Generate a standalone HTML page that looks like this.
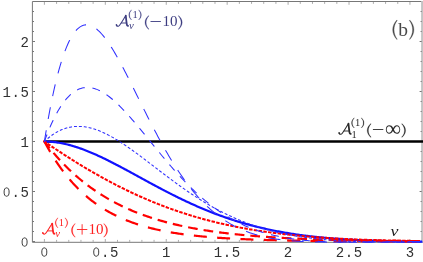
<!DOCTYPE html>
<html><head><meta charset="utf-8"><title>plot</title>
<style>
html,body{margin:0;padding:0;background:#fff;}
body{width:423px;height:262px;overflow:hidden;font-family:"Liberation Sans",sans-serif;}
svg{display:block;}
svg{will-change:transform;}
</style></head><body>
<svg width="423" height="262" viewBox="0 0 423 262">
<rect width="423" height="262" fill="#fff"/>
<g stroke="#777" stroke-width="1" fill="none">
<path d="M423.0,1.5H32.4V242.3H423.0"/>
<line x1="422.05" y1="1.0" x2="422.05" y2="242.8" stroke="#c4c4c4" stroke-width="1.9"/>
<path d="M32.4,241.50h2.6 M421.7,241.50h-2.1 M32.4,231.50h1.6 M421.7,231.50h-1.1 M32.4,221.50h1.6 M421.7,221.50h-1.1 M32.4,211.50h1.6 M421.7,211.50h-1.1 M32.4,201.50h1.6 M421.7,201.50h-1.1 M32.4,191.50h2.6 M421.7,191.50h-2.1 M32.4,181.50h1.6 M421.7,181.50h-1.1 M32.4,171.50h1.6 M421.7,171.50h-1.1 M32.4,161.50h1.6 M421.7,161.50h-1.1 M32.4,151.50h1.6 M421.7,151.50h-1.1 M32.4,141.50h2.6 M421.7,141.50h-2.1 M32.4,131.50h1.6 M421.7,131.50h-1.1 M32.4,121.50h1.6 M421.7,121.50h-1.1 M32.4,111.50h1.6 M421.7,111.50h-1.1 M32.4,101.50h1.6 M421.7,101.50h-1.1 M32.4,91.50h2.6 M421.7,91.50h-2.1 M32.4,81.50h1.6 M421.7,81.50h-1.1 M32.4,71.50h1.6 M421.7,71.50h-1.1 M32.4,61.50h1.6 M421.7,61.50h-1.1 M32.4,51.50h1.6 M421.7,51.50h-1.1 M32.4,41.50h2.6 M421.7,41.50h-2.1 M32.4,31.50h1.6 M421.7,31.50h-1.1 M32.4,21.50h1.6 M421.7,21.50h-1.1 M32.4,11.50h1.6 M421.7,11.50h-1.1"/>
<path d="M44.40,241.8v-2.8 M44.40,2.0v2.8 M56.59,241.8v-1.9 M56.59,2.0v1.9 M68.77,241.8v-1.9 M68.77,2.0v1.9 M80.96,241.8v-1.9 M80.96,2.0v1.9 M93.14,241.8v-1.9 M93.14,2.0v1.9 M105.32,241.8v-2.8 M105.32,2.0v2.8 M117.51,241.8v-1.9 M117.51,2.0v1.9 M129.69,241.8v-1.9 M129.69,2.0v1.9 M141.88,241.8v-1.9 M141.88,2.0v1.9 M154.06,241.8v-1.9 M154.06,2.0v1.9 M166.25,241.8v-2.8 M166.25,2.0v2.8 M178.44,241.8v-1.9 M178.44,2.0v1.9 M190.62,241.8v-1.9 M190.62,2.0v1.9 M202.81,241.8v-1.9 M202.81,2.0v1.9 M214.99,241.8v-1.9 M214.99,2.0v1.9 M227.17,241.8v-2.8 M227.17,2.0v2.8 M239.36,241.8v-1.9 M239.36,2.0v1.9 M251.55,241.8v-1.9 M251.55,2.0v1.9 M263.73,241.8v-1.9 M263.73,2.0v1.9 M275.92,241.8v-1.9 M275.92,2.0v1.9 M288.10,241.8v-2.8 M288.10,2.0v2.8 M300.28,241.8v-1.9 M300.28,2.0v1.9 M312.47,241.8v-1.9 M312.47,2.0v1.9 M324.65,241.8v-1.9 M324.65,2.0v1.9 M336.84,241.8v-1.9 M336.84,2.0v1.9 M349.02,241.8v-2.8 M349.02,2.0v2.8 M361.21,241.8v-1.9 M361.21,2.0v1.9 M373.39,241.8v-1.9 M373.39,2.0v1.9 M385.58,241.8v-1.9 M385.58,2.0v1.9 M397.76,241.8v-1.9 M397.76,2.0v1.9 M409.95,241.8v-2.8 M409.95,2.0v2.8" stroke-width="0.7" stroke="#888"/>
</g>
<clipPath id="c"><rect x="32.4" y="1.5" width="390.6" height="242.3"/></clipPath>
<g clip-path="url(#c)" fill="none">
<line x1="44.4" y1="141.5" x2="423.0" y2="141.5" stroke="#000" stroke-width="2.7"/>
<path d="M44.40,141.50 L45.62,141.51 L46.84,141.54 L48.06,141.58 L49.27,141.64 L50.49,141.72 L51.71,141.82 L52.93,141.94 L54.15,142.07 L55.37,142.21 L56.59,142.38 L57.80,142.56 L59.02,142.75 L60.24,142.96 L61.46,143.19 L62.68,143.43 L63.90,143.68 L65.11,143.95 L66.33,144.23 L67.55,144.53 L68.77,144.84 L69.99,145.16 L71.21,145.50 L72.43,145.85 L73.64,146.21 L74.86,146.58 L76.08,146.97 L77.30,147.37 L78.52,147.78 L79.74,148.20 L80.95,148.63 L82.17,149.07 L83.39,149.52 L84.61,149.98 L85.83,150.45 L87.05,150.93 L88.27,151.42 L89.48,151.92 L90.70,152.43 L91.92,152.94 L93.14,153.47 L94.36,154.00 L95.58,154.54 L96.80,155.09 L98.01,155.64 L99.23,156.21 L100.45,156.77 L101.67,157.35 L102.89,157.93 L104.11,158.52 L105.32,159.11 L106.54,159.71 L107.76,160.31 L108.98,160.92 L110.20,161.53 L111.42,162.15 L112.64,162.77 L113.85,163.40 L115.07,164.03 L116.29,164.66 L117.51,165.30 L118.73,165.94 L119.95,166.58 L121.17,167.23 L122.38,167.88 L123.60,168.53 L124.82,169.18 L126.04,169.84 L127.26,170.49 L128.48,171.15 L129.69,171.81 L130.91,172.48 L132.13,173.14 L133.35,173.80 L134.57,174.47 L135.79,175.13 L137.01,175.80 L138.22,176.46 L139.44,177.13 L140.66,177.80 L141.88,178.46 L143.10,179.13 L144.32,179.79 L145.54,180.45 L146.75,181.12 L147.97,181.78 L149.19,182.44 L150.41,183.10 L151.63,183.76 L152.85,184.41 L154.06,185.07 L155.28,185.72 L156.50,186.37 L157.72,187.02 L158.94,187.67 L160.16,188.31 L161.38,188.96 L162.59,189.60 L163.81,190.23 L165.03,190.87 L166.25,191.50 L167.47,192.13 L168.69,192.75 L169.91,193.38 L171.12,194.00 L172.34,194.61 L173.56,195.23 L174.78,195.84 L176.00,196.44 L177.22,197.04 L178.44,197.64 L179.65,198.24 L180.87,198.83 L182.09,199.42 L183.31,200.00 L184.53,200.58 L185.75,201.16 L186.96,201.73 L188.18,202.30 L189.40,202.86 L190.62,203.42 L191.84,203.97 L193.06,204.52 L194.28,205.07 L195.49,205.61 L196.71,206.15 L197.93,206.68 L199.15,207.21 L200.37,207.73 L201.59,208.25 L202.81,208.76 L204.02,209.27 L205.24,209.78 L206.46,210.28 L207.68,210.77 L208.90,211.26 L210.12,211.75 L211.33,212.23 L212.55,212.70 L213.77,213.18 L214.99,213.64 L216.21,214.10 L217.43,214.56 L218.65,215.01 L219.86,215.46 L221.08,215.90 L222.30,216.34 L223.52,216.77 L224.74,217.20 L225.96,217.62 L227.17,218.04 L228.39,218.46 L229.61,218.86 L230.83,219.27 L232.05,219.67 L233.27,220.06 L234.49,220.45 L235.70,220.83 L236.92,221.21 L238.14,221.59 L239.36,221.96 L240.58,222.33 L241.80,222.69 L243.02,223.04 L244.23,223.39 L245.45,223.74 L246.67,224.08 L247.89,224.42 L249.11,224.75 L250.33,225.08 L251.54,225.41 L252.76,225.73 L253.98,226.04 L255.20,226.35 L256.42,226.66 L257.64,226.96 L258.86,227.26 L260.07,227.55 L261.29,227.84 L262.51,228.12 L263.73,228.40 L264.95,228.68 L266.17,228.95 L267.39,229.22 L268.60,229.48 L269.82,229.74 L271.04,230.00 L272.26,230.25 L273.48,230.50 L274.70,230.74 L275.92,230.98 L277.13,231.21 L278.35,231.45 L279.57,231.67 L280.79,231.90 L282.01,232.12 L283.23,232.34 L284.44,232.55 L285.66,232.76 L286.88,232.96 L288.10,233.17 L289.32,233.37 L290.54,233.56 L291.76,233.75 L292.97,233.94 L294.19,234.13 L295.41,234.31 L296.63,234.49 L297.85,234.66 L299.07,234.83 L300.28,235.00 L301.50,235.17 L302.72,235.33 L303.94,235.49 L305.16,235.65 L306.38,235.80 L307.60,235.95 L308.81,236.10 L310.03,236.25 L311.25,236.39 L312.47,236.53 L313.69,236.66 L314.91,236.80 L316.13,236.93 L317.34,237.06 L318.56,237.18 L319.78,237.31 L321.00,237.43 L322.22,237.55 L323.44,237.66 L324.65,237.77 L325.87,237.89 L327.09,237.99 L328.31,238.10 L329.53,238.20 L330.75,238.31 L331.97,238.41 L333.18,238.50 L334.40,238.60 L335.62,238.69 L336.84,238.78 L338.06,238.87 L339.28,238.96 L340.50,239.04 L341.71,239.13 L342.93,239.21 L344.15,239.29 L345.37,239.36 L346.59,239.44 L347.81,239.51 L349.02,239.58 L350.24,239.65 L351.46,239.72 L352.68,239.79 L353.90,239.85 L355.12,239.92 L356.34,239.98 L357.55,240.04 L358.77,240.10 L359.99,240.15 L361.21,240.21 L362.43,240.26 L363.65,240.32 L364.87,240.37 L366.08,240.42 L367.30,240.47 L368.52,240.51 L369.74,240.56 L370.96,240.60 L372.18,240.65 L373.39,240.69 L374.61,240.73 L375.83,240.77 L377.05,240.81 L378.27,240.85 L379.49,240.88 L380.71,240.92 L381.92,240.95 L383.14,240.99 L384.36,241.02 L385.58,241.05 L386.80,241.08 L388.02,241.11 L389.24,241.14 L390.45,241.17 L391.67,241.19 L392.89,241.22 L394.11,241.24 L395.33,241.27 L396.55,241.29 L397.76,241.31 L398.98,241.34 L400.20,241.36 L401.42,241.38 L402.64,241.40 L403.86,241.42 L405.08,241.43 L406.29,241.45 L407.51,241.47 L408.73,241.48 L409.95,241.50 L411.17,241.51 L412.39,241.53 L413.61,241.54 L414.82,241.56 L416.04,241.57 L417.26,241.58 L418.48,241.59 L419.70,241.60 L420.92,241.61 L422.13,241.62" stroke="#1010ff" stroke-width="2.2"/>
<path d="M44.40,141.50 L45.62,142.34 L46.84,143.17 L48.06,144.00 L49.27,144.83 L50.49,145.66 L51.71,146.48 L52.93,147.30 L54.15,148.11 L55.37,148.92 L56.59,149.73 L57.80,150.54 L59.02,151.34 L60.24,152.14 L61.46,152.94 L62.68,153.73 L63.90,154.52 L65.11,155.31 L66.33,156.09 L67.55,156.87 L68.77,157.65 L69.99,158.42 L71.21,159.19 L72.43,159.96 L73.64,160.72 L74.86,161.48 L76.08,162.23 L77.30,162.98 L78.52,163.73 L79.74,164.48 L80.95,165.22 L82.17,165.96 L83.39,166.69 L84.61,167.42 L85.83,168.15 L87.05,168.87 L88.27,169.59 L89.48,170.30 L90.70,171.01 L91.92,171.72 L93.14,172.43 L94.36,173.13 L95.58,173.82 L96.80,174.51 L98.01,175.20 L99.23,175.89 L100.45,176.57 L101.67,177.24 L102.89,177.91 L104.11,178.58 L105.32,179.25 L106.54,179.91 L107.76,180.56 L108.98,181.22 L110.20,181.86 L111.42,182.51 L112.64,183.15 L113.85,183.78 L115.07,184.42 L116.29,185.04 L117.51,185.67 L118.73,186.29 L119.95,186.90 L121.17,187.51 L122.38,188.12 L123.60,188.72 L124.82,189.32 L126.04,189.91 L127.26,190.50 L128.48,191.09 L129.69,191.67 L130.91,192.25 L132.13,192.82 L133.35,193.39 L134.57,193.96 L135.79,194.52 L137.01,195.07 L138.22,195.62 L139.44,196.17 L140.66,196.72 L141.88,197.26 L143.10,197.79 L144.32,198.32 L145.54,198.85 L146.75,199.37 L147.97,199.89 L149.19,200.40 L150.41,200.91 L151.63,201.42 L152.85,201.92 L154.06,202.41 L155.28,202.91 L156.50,203.40 L157.72,203.88 L158.94,204.36 L160.16,204.84 L161.38,205.31 L162.59,205.77 L163.81,206.24 L165.03,206.70 L166.25,207.15 L167.47,207.60 L168.69,208.05 L169.91,208.49 L171.12,208.93 L172.34,209.36 L173.56,209.79 L174.78,210.22 L176.00,210.64 L177.22,211.06 L178.44,211.48 L179.65,211.89 L180.87,212.29 L182.09,212.69 L183.31,213.09 L184.53,213.49 L185.75,213.88 L186.96,214.26 L188.18,214.64 L189.40,215.02 L190.62,215.40 L191.84,215.77 L193.06,216.13 L194.28,216.50 L195.49,216.86 L196.71,217.21 L197.93,217.56 L199.15,217.91 L200.37,218.25 L201.59,218.59 L202.81,218.93 L204.02,219.26 L205.24,219.59 L206.46,219.92 L207.68,220.24 L208.90,220.56 L210.12,220.87 L211.33,221.18 L212.55,221.49 L213.77,221.79 L214.99,222.09 L216.21,222.39 L217.43,222.69 L218.65,222.98 L219.86,223.26 L221.08,223.55 L222.30,223.83 L223.52,224.10 L224.74,224.38 L225.96,224.65 L227.17,224.91 L228.39,225.18 L229.61,225.44 L230.83,225.69 L232.05,225.95 L233.27,226.20 L234.49,226.44 L235.70,226.69 L236.92,226.93 L238.14,227.17 L239.36,227.40 L240.58,227.64 L241.80,227.87 L243.02,228.09 L244.23,228.31 L245.45,228.54 L246.67,228.75 L247.89,228.97 L249.11,229.18 L250.33,229.39 L251.54,229.59 L252.76,229.80 L253.98,230.00 L255.20,230.20 L256.42,230.39 L257.64,230.58 L258.86,230.77 L260.07,230.96 L261.29,231.15 L262.51,231.33 L263.73,231.51 L264.95,231.69 L266.17,231.86 L267.39,232.03 L268.60,232.20 L269.82,232.37 L271.04,232.53 L272.26,232.70 L273.48,232.86 L274.70,233.01 L275.92,233.17 L277.13,233.32 L278.35,233.47 L279.57,233.62 L280.79,233.77 L282.01,233.91 L283.23,234.05 L284.44,234.19 L285.66,234.33 L286.88,234.47 L288.10,234.60 L289.32,234.73 L290.54,234.86 L291.76,234.99 L292.97,235.12 L294.19,235.24 L295.41,235.36 L296.63,235.48 L297.85,235.60 L299.07,235.71 L300.28,235.83 L301.50,235.94 L302.72,236.05 L303.94,236.16 L305.16,236.27 L306.38,236.37 L307.60,236.48 L308.81,236.58 L310.03,236.68 L311.25,236.78 L312.47,236.87 L313.69,236.97 L314.91,237.06 L316.13,237.16 L317.34,237.25 L318.56,237.33 L319.78,237.42 L321.00,237.51 L322.22,237.59 L323.44,237.68 L324.65,237.76 L325.87,237.84 L327.09,237.92 L328.31,237.99 L329.53,238.07 L330.75,238.14 L331.97,238.22 L333.18,238.29 L334.40,238.36 L335.62,238.43 L336.84,238.50 L338.06,238.57 L339.28,238.63 L340.50,238.70 L341.71,238.76 L342.93,238.82 L344.15,238.88 L345.37,238.94 L346.59,239.00 L347.81,239.06 L349.02,239.12 L350.24,239.17 L351.46,239.23 L352.68,239.28 L353.90,239.33 L355.12,239.39 L356.34,239.44 L357.55,239.49 L358.77,239.53 L359.99,239.58 L361.21,239.63 L362.43,239.67 L363.65,239.72 L364.87,239.76 L366.08,239.81 L367.30,239.85 L368.52,239.89 L369.74,239.93 L370.96,239.97 L372.18,240.01 L373.39,240.05 L374.61,240.09 L375.83,240.12 L377.05,240.16 L378.27,240.19 L379.49,240.23 L380.71,240.26 L381.92,240.29 L383.14,240.33 L384.36,240.36 L385.58,240.39 L386.80,240.42 L388.02,240.45 L389.24,240.48 L390.45,240.51 L391.67,240.53 L392.89,240.56 L394.11,240.59 L395.33,240.61 L396.55,240.64 L397.76,240.66 L398.98,240.69 L400.20,240.71 L401.42,240.74 L402.64,240.76 L403.86,240.78 L405.08,240.80 L406.29,240.82 L407.51,240.84 L408.73,240.86 L409.95,240.88 L411.17,240.90 L412.39,240.92 L413.61,240.94 L414.82,240.96 L416.04,240.98 L417.26,240.99 L418.48,241.01 L419.70,241.03 L420.92,241.04 L422.13,241.06" stroke="#ff0000" stroke-width="2.0" stroke-dasharray="1.5 3.3" stroke-linecap="square"/>
<path d="M44.40,141.50 L45.62,143.10 L46.84,144.68 L48.06,146.23 L49.27,147.76 L50.49,149.27 L51.71,150.75 L52.93,152.20 L54.15,153.64 L55.37,155.05 L56.59,156.44 L57.80,157.80 L59.02,159.15 L60.24,160.47 L61.46,161.78 L62.68,163.06 L63.90,164.32 L65.11,165.56 L66.33,166.78 L67.55,167.99 L68.77,169.17 L69.99,170.33 L71.21,171.48 L72.43,172.61 L73.64,173.72 L74.86,174.81 L76.08,175.89 L77.30,176.95 L78.52,177.99 L79.74,179.01 L80.95,180.02 L82.17,181.02 L83.39,181.99 L84.61,182.96 L85.83,183.90 L87.05,184.83 L88.27,185.75 L89.48,186.65 L90.70,187.54 L91.92,188.41 L93.14,189.27 L94.36,190.12 L95.58,190.95 L96.80,191.77 L98.01,192.58 L99.23,193.37 L100.45,194.16 L101.67,194.93 L102.89,195.68 L104.11,196.43 L105.32,197.16 L106.54,197.88 L107.76,198.59 L108.98,199.29 L110.20,199.98 L111.42,200.66 L112.64,201.32 L113.85,201.98 L115.07,202.62 L116.29,203.26 L117.51,203.88 L118.73,204.50 L119.95,205.10 L121.17,205.70 L122.38,206.28 L123.60,206.86 L124.82,207.43 L126.04,207.99 L127.26,208.54 L128.48,209.08 L129.69,209.61 L130.91,210.13 L132.13,210.65 L133.35,211.16 L134.57,211.65 L135.79,212.15 L137.01,212.63 L138.22,213.11 L139.44,213.57 L140.66,214.03 L141.88,214.49 L143.10,214.93 L144.32,215.37 L145.54,215.80 L146.75,216.23 L147.97,216.65 L149.19,217.06 L150.41,217.47 L151.63,217.86 L152.85,218.26 L154.06,218.64 L155.28,219.02 L156.50,219.40 L157.72,219.76 L158.94,220.13 L160.16,220.48 L161.38,220.83 L162.59,221.18 L163.81,221.52 L165.03,221.85 L166.25,222.18 L167.47,222.50 L168.69,222.82 L169.91,223.13 L171.12,223.44 L172.34,223.74 L173.56,224.04 L174.78,224.33 L176.00,224.62 L177.22,224.91 L178.44,225.19 L179.65,225.46 L180.87,225.73 L182.09,226.00 L183.31,226.26 L184.53,226.52 L185.75,226.77 L186.96,227.02 L188.18,227.27 L189.40,227.51 L190.62,227.74 L191.84,227.98 L193.06,228.21 L194.28,228.43 L195.49,228.66 L196.71,228.87 L197.93,229.09 L199.15,229.30 L200.37,229.51 L201.59,229.71 L202.81,229.92 L204.02,230.11 L205.24,230.31 L206.46,230.50 L207.68,230.69 L208.90,230.88 L210.12,231.06 L211.33,231.24 L212.55,231.42 L213.77,231.59 L214.99,231.76 L216.21,231.93 L217.43,232.09 L218.65,232.26 L219.86,232.42 L221.08,232.57 L222.30,232.73 L223.52,232.88 L224.74,233.03 L225.96,233.18 L227.17,233.32 L228.39,233.47 L229.61,233.61 L230.83,233.74 L232.05,233.88 L233.27,234.01 L234.49,234.14 L235.70,234.27 L236.92,234.40 L238.14,234.52 L239.36,234.65 L240.58,234.77 L241.80,234.89 L243.02,235.00 L244.23,235.12 L245.45,235.23 L246.67,235.34 L247.89,235.45 L249.11,235.56 L250.33,235.66 L251.54,235.77 L252.76,235.87 L253.98,235.97 L255.20,236.07 L256.42,236.16 L257.64,236.26 L258.86,236.35 L260.07,236.45 L261.29,236.54 L262.51,236.63 L263.73,236.71 L264.95,236.80 L266.17,236.88 L267.39,236.97 L268.60,237.05 L269.82,237.13 L271.04,237.21 L272.26,237.29 L273.48,237.36 L274.70,237.44 L275.92,237.51 L277.13,237.58 L278.35,237.65 L279.57,237.72 L280.79,237.79 L282.01,237.86 L283.23,237.93 L284.44,237.99 L285.66,238.06 L286.88,238.12 L288.10,238.18 L289.32,238.24 L290.54,238.30 L291.76,238.36 L292.97,238.42 L294.19,238.48 L295.41,238.53 L296.63,238.59 L297.85,238.64 L299.07,238.70 L300.28,238.75 L301.50,238.80 L302.72,238.85 L303.94,238.90 L305.16,238.95 L306.38,239.00 L307.60,239.04 L308.81,239.09 L310.03,239.13 L311.25,239.18 L312.47,239.22 L313.69,239.26 L314.91,239.31 L316.13,239.35 L317.34,239.39 L318.56,239.43 L319.78,239.47 L321.00,239.51 L322.22,239.55 L323.44,239.58 L324.65,239.62 L325.87,239.66 L327.09,239.69 L328.31,239.72 L329.53,239.76 L330.75,239.79 L331.97,239.83 L333.18,239.86 L334.40,239.89 L335.62,239.92 L336.84,239.95 L338.06,239.98 L339.28,240.01 L340.50,240.04 L341.71,240.07 L342.93,240.10 L344.15,240.12 L345.37,240.15 L346.59,240.18 L347.81,240.20 L349.02,240.23 L350.24,240.25 L351.46,240.28 L352.68,240.30 L353.90,240.33 L355.12,240.35 L356.34,240.37 L357.55,240.39 L358.77,240.42 L359.99,240.44 L361.21,240.46 L362.43,240.48 L363.65,240.50 L364.87,240.52 L366.08,240.54 L367.30,240.56 L368.52,240.58 L369.74,240.60 L370.96,240.61 L372.18,240.63 L373.39,240.65 L374.61,240.67 L375.83,240.68 L377.05,240.70 L378.27,240.72 L379.49,240.73 L380.71,240.75 L381.92,240.76 L383.14,240.78 L384.36,240.79 L385.58,240.81 L386.80,240.82 L388.02,240.84 L389.24,240.85 L390.45,240.86 L391.67,240.88 L392.89,240.89 L394.11,240.90 L395.33,240.91 L396.55,240.93 L397.76,240.94 L398.98,240.95 L400.20,240.96 L401.42,240.97 L402.64,240.98 L403.86,240.99 L405.08,241.01 L406.29,241.02 L407.51,241.03 L408.73,241.04 L409.95,241.05 L411.17,241.06 L412.39,241.07 L413.61,241.07 L414.82,241.08 L416.04,241.09 L417.26,241.10 L418.48,241.11 L419.70,241.12 L420.92,241.13 L422.13,241.13" stroke="#ff0000" stroke-width="2.2" stroke-dasharray="7.5 8.2" stroke-linecap="square"/>
<path d="M44.40,141.50 L45.62,143.78 L46.84,146.00 L48.06,148.17 L49.27,150.30 L50.49,152.38 L51.71,154.40 L52.93,156.39 L54.15,158.32 L55.37,160.22 L56.59,162.07 L57.80,163.88 L59.02,165.64 L60.24,167.37 L61.46,169.06 L62.68,170.71 L63.90,172.32 L65.11,173.89 L66.33,175.43 L67.55,176.94 L68.77,178.41 L69.99,179.84 L71.21,181.25 L72.43,182.62 L73.64,183.96 L74.86,185.27 L76.08,186.55 L77.30,187.80 L78.52,189.02 L79.74,190.22 L80.95,191.38 L82.17,192.52 L83.39,193.64 L84.61,194.73 L85.83,195.79 L87.05,196.83 L88.27,197.85 L89.48,198.84 L90.70,199.82 L91.92,200.76 L93.14,201.69 L94.36,202.60 L95.58,203.48 L96.80,204.35 L98.01,205.19 L99.23,206.02 L100.45,206.83 L101.67,207.62 L102.89,208.39 L104.11,209.14 L105.32,209.88 L106.54,210.60 L107.76,211.30 L108.98,211.99 L110.20,212.66 L111.42,213.32 L112.64,213.96 L113.85,214.59 L115.07,215.20 L116.29,215.80 L117.51,216.38 L118.73,216.96 L119.95,217.51 L121.17,218.06 L122.38,218.59 L123.60,219.12 L124.82,219.63 L126.04,220.12 L127.26,220.61 L128.48,221.09 L129.69,221.55 L130.91,222.01 L132.13,222.45 L133.35,222.88 L134.57,223.31 L135.79,223.72 L137.01,224.13 L138.22,224.52 L139.44,224.91 L140.66,225.29 L141.88,225.65 L143.10,226.02 L144.32,226.37 L145.54,226.71 L146.75,227.05 L147.97,227.38 L149.19,227.70 L150.41,228.01 L151.63,228.32 L152.85,228.62 L154.06,228.91 L155.28,229.20 L156.50,229.48 L157.72,229.76 L158.94,230.02 L160.16,230.28 L161.38,230.54 L162.59,230.79 L163.81,231.03 L165.03,231.27 L166.25,231.50 L167.47,231.73 L168.69,231.95 L169.91,232.17 L171.12,232.38 L172.34,232.59 L173.56,232.80 L174.78,232.99 L176.00,233.19 L177.22,233.38 L178.44,233.56 L179.65,233.74 L180.87,233.92 L182.09,234.09 L183.31,234.26 L184.53,234.43 L185.75,234.59 L186.96,234.74 L188.18,234.90 L189.40,235.05 L190.62,235.20 L191.84,235.34 L193.06,235.48 L194.28,235.62 L195.49,235.75 L196.71,235.88 L197.93,236.01 L199.15,236.13 L200.37,236.26 L201.59,236.38 L202.81,236.49 L204.02,236.61 L205.24,236.72 L206.46,236.83 L207.68,236.93 L208.90,237.04 L210.12,237.14 L211.33,237.24 L212.55,237.34 L213.77,237.43 L214.99,237.52 L216.21,237.61 L217.43,237.70 L218.65,237.79 L219.86,237.87 L221.08,237.96 L222.30,238.04 L223.52,238.12 L224.74,238.19 L225.96,238.27 L227.17,238.34 L228.39,238.41 L229.61,238.49 L230.83,238.55 L232.05,238.62 L233.27,238.69 L234.49,238.75 L235.70,238.81 L236.92,238.87 L238.14,238.93 L239.36,238.99 L240.58,239.05 L241.80,239.11 L243.02,239.16 L244.23,239.21 L245.45,239.27 L246.67,239.32 L247.89,239.37 L249.11,239.42 L250.33,239.46 L251.54,239.51 L252.76,239.56 L253.98,239.60 L255.20,239.64 L256.42,239.69 L257.64,239.73 L258.86,239.77 L260.07,239.81 L261.29,239.85 L262.51,239.88 L263.73,239.92 L264.95,239.96 L266.17,239.99 L267.39,240.03 L268.60,240.06 L269.82,240.09 L271.04,240.12 L272.26,240.16 L273.48,240.19 L274.70,240.22 L275.92,240.25 L277.13,240.27 L278.35,240.30 L279.57,240.33 L280.79,240.36 L282.01,240.38 L283.23,240.41 L284.44,240.43 L285.66,240.46 L286.88,240.48 L288.10,240.50 L289.32,240.53 L290.54,240.55 L291.76,240.57 L292.97,240.59 L294.19,240.61 L295.41,240.63 L296.63,240.65 L297.85,240.67 L299.07,240.69 L300.28,240.71 L301.50,240.73 L302.72,240.75 L303.94,240.76 L305.16,240.78 L306.38,240.80 L307.60,240.81 L308.81,240.83 L310.03,240.84 L311.25,240.86 L312.47,240.87 L313.69,240.89 L314.91,240.90 L316.13,240.92 L317.34,240.93 L318.56,240.94 L319.78,240.95 L321.00,240.97 L322.22,240.98 L323.44,240.99 L324.65,241.00 L325.87,241.01 L327.09,241.03 L328.31,241.04 L329.53,241.05 L330.75,241.06 L331.97,241.07 L333.18,241.08 L334.40,241.09 L335.62,241.10 L336.84,241.11 L338.06,241.11 L339.28,241.12 L340.50,241.13 L341.71,241.14 L342.93,241.15 L344.15,241.16 L345.37,241.16 L346.59,241.17 L347.81,241.18 L349.02,241.19 L350.24,241.19 L351.46,241.20 L352.68,241.21 L353.90,241.21 L355.12,241.22 L356.34,241.23 L357.55,241.23 L358.77,241.24 L359.99,241.25 L361.21,241.25 L362.43,241.26 L363.65,241.26 L364.87,241.27 L366.08,241.27 L367.30,241.28 L368.52,241.28 L369.74,241.29 L370.96,241.29 L372.18,241.30 L373.39,241.30 L374.61,241.31 L375.83,241.31 L377.05,241.32 L378.27,241.32 L379.49,241.32 L380.71,241.33 L381.92,241.33 L383.14,241.34 L384.36,241.34 L385.58,241.34 L386.80,241.35 L388.02,241.35 L389.24,241.35 L390.45,241.36 L391.67,241.36 L392.89,241.36 L394.11,241.37 L395.33,241.37 L396.55,241.37 L397.76,241.38 L398.98,241.38 L400.20,241.38 L401.42,241.38 L402.64,241.39 L403.86,241.39 L405.08,241.39 L406.29,241.40 L407.51,241.40 L408.73,241.40 L409.95,241.40 L411.17,241.40 L412.39,241.41 L413.61,241.41 L414.82,241.41 L416.04,241.41 L417.26,241.42 L418.48,241.42 L419.70,241.42 L420.92,241.42 L422.13,241.42" stroke="#ff0000" stroke-width="2.2" stroke-dasharray="10.8 12.55" stroke-linecap="square"/>
<path d="M44.40,141.50 L45.62,140.36 L46.84,139.27 L48.06,138.23 L49.27,137.24 L50.49,136.30 L51.71,135.40 L52.93,134.55 L54.15,133.74 L55.37,132.98 L56.59,132.26 L57.80,131.59 L59.02,130.96 L60.24,130.38 L61.46,129.84 L62.68,129.34 L63.90,128.88 L65.11,128.46 L66.33,128.08 L67.55,127.75 L68.77,127.45 L69.99,127.19 L71.21,126.97 L72.43,126.78 L73.64,126.63 L74.86,126.52 L76.08,126.45 L77.30,126.40 L78.52,126.40 L79.74,126.42 L80.95,126.48 L82.17,126.57 L83.39,126.69 L84.61,126.85 L85.83,127.03 L87.05,127.24 L88.27,127.48 L89.48,127.75 L90.70,128.05 L91.92,128.37 L93.14,128.72 L94.36,129.10 L95.58,129.50 L96.80,129.92 L98.01,130.37 L99.23,130.85 L100.45,131.34 L101.67,131.86 L102.89,132.39 L104.11,132.95 L105.32,133.53 L106.54,134.12 L107.76,134.74 L108.98,135.37 L110.20,136.02 L111.42,136.69 L112.64,137.38 L113.85,138.08 L115.07,138.79 L116.29,139.52 L117.51,140.26 L118.73,141.02 L119.95,141.79 L121.17,142.57 L122.38,143.37 L123.60,144.17 L124.82,144.99 L126.04,145.81 L127.26,146.65 L128.48,147.50 L129.69,148.35 L130.91,149.21 L132.13,150.08 L133.35,150.96 L134.57,151.84 L135.79,152.73 L137.01,153.63 L138.22,154.53 L139.44,155.43 L140.66,156.35 L141.88,157.26 L143.10,158.18 L144.32,159.10 L145.54,160.03 L146.75,160.95 L147.97,161.88 L149.19,162.81 L150.41,163.75 L151.63,164.68 L152.85,165.61 L154.06,166.55 L155.28,167.48 L156.50,168.42 L157.72,169.35 L158.94,170.29 L160.16,171.22 L161.38,172.15 L162.59,173.08 L163.81,174.00 L165.03,174.93 L166.25,175.85 L167.47,176.77 L168.69,177.68 L169.91,178.59 L171.12,179.50 L172.34,180.41 L173.56,181.31 L174.78,182.20 L176.00,183.09 L177.22,183.98 L178.44,184.86 L179.65,185.74 L180.87,186.61 L182.09,187.48 L183.31,188.34 L184.53,189.19 L185.75,190.04 L186.96,190.88 L188.18,191.72 L189.40,192.55 L190.62,193.37 L191.84,194.19 L193.06,195.00 L194.28,195.80 L195.49,196.60 L196.71,197.39 L197.93,198.17 L199.15,198.94 L200.37,199.71 L201.59,200.47 L202.81,201.22 L204.02,201.96 L205.24,202.70 L206.46,203.43 L207.68,204.15 L208.90,204.86 L210.12,205.57 L211.33,206.27 L212.55,206.96 L213.77,207.64 L214.99,208.31 L216.21,208.98 L217.43,209.64 L218.65,210.28 L219.86,210.93 L221.08,211.56 L222.30,212.18 L223.52,212.80 L224.74,213.41 L225.96,214.01 L227.17,214.60 L228.39,215.19 L229.61,215.76 L230.83,216.33 L232.05,216.89 L233.27,217.44 L234.49,217.98 L235.70,218.52 L236.92,219.05 L238.14,219.57 L239.36,220.08 L240.58,220.58 L241.80,221.08 L243.02,221.56 L244.23,222.04 L245.45,222.52 L246.67,222.98 L247.89,223.44 L249.11,223.89 L250.33,224.33 L251.54,224.76 L252.76,225.19 L253.98,225.61 L255.20,226.02 L256.42,226.43 L257.64,226.82 L258.86,227.21 L260.07,227.60 L261.29,227.97 L262.51,228.34 L263.73,228.70 L264.95,229.06 L266.17,229.41 L267.39,229.75 L268.60,230.08 L269.82,230.41 L271.04,230.74 L272.26,231.05 L273.48,231.36 L274.70,231.66 L275.92,231.96 L277.13,232.25 L278.35,232.54 L279.57,232.81 L280.79,233.09 L282.01,233.35 L283.23,233.61 L284.44,233.87 L285.66,234.12 L286.88,234.36 L288.10,234.60 L289.32,234.83 L290.54,235.06 L291.76,235.29 L292.97,235.50 L294.19,235.72 L295.41,235.92 L296.63,236.12 L297.85,236.32 L299.07,236.52 L300.28,236.70 L301.50,236.89 L302.72,237.07 L303.94,237.24 L305.16,237.41 L306.38,237.57 L307.60,237.74 L308.81,237.89 L310.03,238.05 L311.25,238.19 L312.47,238.34 L313.69,238.48 L314.91,238.62 L316.13,238.75 L317.34,238.88 L318.56,239.01 L319.78,239.13 L321.00,239.25 L322.22,239.36 L323.44,239.47 L324.65,239.58 L325.87,239.69 L327.09,239.79 L328.31,239.89 L329.53,239.99 L330.75,240.08 L331.97,240.17 L333.18,240.26 L334.40,240.34 L335.62,240.42 L336.84,240.50 L338.06,240.58 L339.28,240.65 L340.50,240.72 L341.71,240.79 L342.93,240.86 L344.15,240.92 L345.37,240.98 L346.59,241.04 L347.81,241.10 L349.02,241.16 L350.24,241.21 L351.46,241.26 L352.68,241.31 L353.90,241.36 L355.12,241.40 L356.34,241.44 L357.55,241.49 L358.77,241.52 L359.99,241.56 L361.21,241.60 L362.43,241.63 L363.65,241.67 L364.87,241.70 L366.08,241.73 L367.30,241.76 L368.52,241.79 L369.74,241.81 L370.96,241.84 L372.18,241.86 L373.39,241.88 L374.61,241.90 L375.83,241.92 L377.05,241.94 L378.27,241.96 L379.49,241.97 L380.71,241.99 L381.92,242.00 L383.14,242.02 L384.36,242.03 L385.58,242.04 L386.80,242.05 L388.02,242.06 L389.24,242.07 L390.45,242.08 L391.67,242.08 L392.89,242.09 L394.11,242.10 L395.33,242.10 L396.55,242.11 L397.76,242.11 L398.98,242.11 L400.20,242.12 L401.42,242.12 L402.64,242.12 L403.86,242.12 L405.08,242.12 L406.29,242.12 L407.51,242.12 L408.73,242.12 L409.95,242.12 L411.17,242.11 L412.39,242.11 L413.61,242.11 L414.82,242.11 L416.04,242.10 L417.26,242.10 L418.48,242.09 L419.70,242.09 L420.92,242.09 L422.13,242.08" stroke="#3030ff" stroke-width="1.05" stroke-dasharray="1.9 3.0" stroke-linecap="square"/>
<path d="M44.40,141.50 L45.62,138.18 L46.84,134.97 L48.06,131.88 L49.27,128.91 L50.49,126.06 L51.71,123.32 L52.93,120.69 L54.15,118.18 L55.37,115.78 L56.59,113.48 L57.80,111.30 L59.02,109.22 L60.24,107.25 L61.46,105.39 L62.68,103.62 L63.90,101.96 L65.11,100.40 L66.33,98.93 L67.55,97.56 L68.77,96.29 L69.99,95.11 L71.21,94.02 L72.43,93.03 L73.64,92.12 L74.86,91.29 L76.08,90.56 L77.30,89.90 L78.52,89.33 L79.74,88.84 L80.95,88.42 L82.17,88.09 L83.39,87.82 L84.61,87.63 L85.83,87.51 L87.05,87.46 L88.27,87.48 L89.48,87.57 L90.70,87.72 L91.92,87.93 L93.14,88.20 L94.36,88.53 L95.58,88.92 L96.80,89.37 L98.01,89.87 L99.23,90.42 L100.45,91.02 L101.67,91.67 L102.89,92.37 L104.11,93.12 L105.32,93.91 L106.54,94.74 L107.76,95.61 L108.98,96.53 L110.20,97.48 L111.42,98.47 L112.64,99.49 L113.85,100.55 L115.07,101.64 L116.29,102.76 L117.51,103.91 L118.73,105.09 L119.95,106.29 L121.17,107.52 L122.38,108.78 L123.60,110.06 L124.82,111.36 L126.04,112.68 L127.26,114.01 L128.48,115.37 L129.69,116.74 L130.91,118.13 L132.13,119.54 L133.35,120.95 L134.57,122.38 L135.79,123.82 L137.01,125.27 L138.22,126.73 L139.44,128.20 L140.66,129.67 L141.88,131.15 L143.10,132.64 L144.32,134.13 L145.54,135.62 L146.75,137.12 L147.97,138.62 L149.19,140.12 L150.41,141.62 L151.63,143.12 L152.85,144.62 L154.06,146.11 L155.28,147.61 L156.50,149.10 L157.72,150.58 L158.94,152.06 L160.16,153.54 L161.38,155.01 L162.59,156.47 L163.81,157.93 L165.03,159.38 L166.25,160.82 L167.47,162.25 L168.69,163.68 L169.91,165.09 L171.12,166.50 L172.34,167.89 L173.56,169.28 L174.78,170.65 L176.00,172.01 L177.22,173.36 L178.44,174.70 L179.65,176.03 L180.87,177.34 L182.09,178.64 L183.31,179.93 L184.53,181.20 L185.75,182.47 L186.96,183.71 L188.18,184.94 L189.40,186.16 L190.62,187.37 L191.84,188.56 L193.06,189.73 L194.28,190.89 L195.49,192.04 L196.71,193.17 L197.93,194.28 L199.15,195.38 L200.37,196.46 L201.59,197.53 L202.81,198.59 L204.02,199.62 L205.24,200.65 L206.46,201.65 L207.68,202.64 L208.90,203.62 L210.12,204.58 L211.33,205.53 L212.55,206.45 L213.77,207.37 L214.99,208.27 L216.21,209.15 L217.43,210.02 L218.65,210.87 L219.86,211.71 L221.08,212.53 L222.30,213.33 L223.52,214.13 L224.74,214.90 L225.96,215.67 L227.17,216.41 L228.39,217.15 L229.61,217.86 L230.83,218.57 L232.05,219.26 L233.27,219.93 L234.49,220.59 L235.70,221.24 L236.92,221.88 L238.14,222.50 L239.36,223.10 L240.58,223.70 L241.80,224.28 L243.02,224.84 L244.23,225.40 L245.45,225.94 L246.67,226.47 L247.89,226.99 L249.11,227.49 L250.33,227.98 L251.54,228.47 L252.76,228.93 L253.98,229.39 L255.20,229.84 L256.42,230.27 L257.64,230.70 L258.86,231.11 L260.07,231.51 L261.29,231.90 L262.51,232.28 L263.73,232.65 L264.95,233.02 L266.17,233.37 L267.39,233.71 L268.60,234.04 L269.82,234.36 L271.04,234.67 L272.26,234.98 L273.48,235.27 L274.70,235.56 L275.92,235.84 L277.13,236.11 L278.35,236.37 L279.57,236.62 L280.79,236.87 L282.01,237.11 L283.23,237.34 L284.44,237.56 L285.66,237.77 L286.88,237.98 L288.10,238.18 L289.32,238.38 L290.54,238.57 L291.76,238.75 L292.97,238.92 L294.19,239.09 L295.41,239.25 L296.63,239.41 L297.85,239.56 L299.07,239.71 L300.28,239.85 L301.50,239.98 L302.72,240.11 L303.94,240.24 L305.16,240.36 L306.38,240.47 L307.60,240.58 L308.81,240.69 L310.03,240.79 L311.25,240.88 L312.47,240.98 L313.69,241.06 L314.91,241.15 L316.13,241.23 L317.34,241.31 L318.56,241.38 L319.78,241.45 L321.00,241.51 L322.22,241.58 L323.44,241.64 L324.65,241.69 L325.87,241.75 L327.09,241.80 L328.31,241.84 L329.53,241.89 L330.75,241.93 L331.97,241.97 L333.18,242.01 L334.40,242.04 L335.62,242.07 L336.84,242.10 L338.06,242.13 L339.28,242.16 L340.50,242.18 L341.71,242.20 L342.93,242.22 L344.15,242.24 L345.37,242.26 L346.59,242.27 L347.81,242.29 L349.02,242.30 L350.24,242.31 L351.46,242.32 L352.68,242.33 L353.90,242.33 L355.12,242.34 L356.34,242.34 L357.55,242.34 L358.77,242.35 L359.99,242.35 L361.21,242.35 L362.43,242.35 L363.65,242.34 L364.87,242.34 L366.08,242.34 L367.30,242.33 L368.52,242.33 L369.74,242.32 L370.96,242.32 L372.18,242.31 L373.39,242.30 L374.61,242.29 L375.83,242.28 L377.05,242.28 L378.27,242.27 L379.49,242.26 L380.71,242.25 L381.92,242.24 L383.14,242.23 L384.36,242.21 L385.58,242.20 L386.80,242.19 L388.02,242.18 L389.24,242.17 L390.45,242.16 L391.67,242.14 L392.89,242.13 L394.11,242.12 L395.33,242.11 L396.55,242.09 L397.76,242.08 L398.98,242.07 L400.20,242.06 L401.42,242.04 L402.64,242.03 L403.86,242.02 L405.08,242.00 L406.29,241.99 L407.51,241.98 L408.73,241.97 L409.95,241.95 L411.17,241.94 L412.39,241.93 L413.61,241.92 L414.82,241.90 L416.04,241.89 L417.26,241.88 L418.48,241.87 L419.70,241.86 L420.92,241.85 L422.13,241.84" stroke="#3030ff" stroke-width="1.05" stroke-dasharray="6.9 8.8" stroke-linecap="square"/>
<path d="M44.40,141.50 L45.62,133.95 L46.84,126.70 L48.06,119.74 L49.27,113.07 L50.49,106.68 L51.71,100.58 L52.93,94.75 L54.15,89.19 L55.37,83.90 L56.59,78.88 L57.80,74.11 L59.02,69.60 L60.24,65.34 L61.46,61.33 L62.68,57.55 L63.90,54.01 L65.11,50.70 L66.33,47.61 L67.55,44.75 L68.77,42.10 L69.99,39.66 L71.21,37.43 L72.43,35.40 L73.64,33.56 L74.86,31.91 L76.08,30.45 L77.30,29.17 L78.52,28.06 L79.74,27.13 L80.95,26.36 L82.17,25.75 L83.39,25.30 L84.61,25.00 L85.83,24.84 L87.05,24.82 L88.27,24.95 L89.48,25.20 L90.70,25.58 L91.92,26.08 L93.14,26.70 L94.36,27.44 L95.58,28.28 L96.80,29.23 L98.01,30.29 L99.23,31.43 L100.45,32.67 L101.67,34.00 L102.89,35.41 L104.11,36.91 L105.32,38.48 L106.54,40.12 L107.76,41.83 L108.98,43.61 L110.20,45.45 L111.42,47.35 L112.64,49.30 L113.85,51.31 L115.07,53.36 L116.29,55.46 L117.51,57.60 L118.73,59.78 L119.95,62.00 L121.17,64.25 L122.38,66.53 L123.60,68.84 L124.82,71.18 L126.04,73.54 L127.26,75.92 L128.48,78.31 L129.69,80.73 L130.91,83.15 L132.13,85.59 L133.35,88.03 L134.57,90.49 L135.79,92.94 L137.01,95.40 L138.22,97.87 L139.44,100.33 L140.66,102.79 L141.88,105.24 L143.10,107.69 L144.32,110.13 L145.54,112.57 L146.75,114.99 L147.97,117.40 L149.19,119.80 L150.41,122.19 L151.63,124.56 L152.85,126.92 L154.06,129.25 L155.28,131.57 L156.50,133.87 L157.72,136.16 L158.94,138.42 L160.16,140.65 L161.38,142.87 L162.59,145.06 L163.81,147.23 L165.03,149.38 L166.25,151.50 L167.47,153.59 L168.69,155.66 L169.91,157.70 L171.12,159.71 L172.34,161.70 L173.56,163.66 L174.78,165.59 L176.00,167.50 L177.22,169.37 L178.44,171.22 L179.65,173.03 L180.87,174.82 L182.09,176.58 L183.31,178.31 L184.53,180.01 L185.75,181.68 L186.96,183.32 L188.18,184.93 L189.40,186.52 L190.62,188.07 L191.84,189.59 L193.06,191.09 L194.28,192.55 L195.49,193.99 L196.71,195.40 L197.93,196.78 L199.15,198.13 L200.37,199.45 L201.59,200.74 L202.81,202.01 L204.02,203.25 L205.24,204.46 L206.46,205.64 L207.68,206.80 L208.90,207.93 L210.12,209.04 L211.33,210.11 L212.55,211.17 L213.77,212.19 L214.99,213.19 L216.21,214.17 L217.43,215.12 L218.65,216.05 L219.86,216.96 L221.08,217.84 L222.30,218.70 L223.52,219.53 L224.74,220.34 L225.96,221.14 L227.17,221.90 L228.39,222.65 L229.61,223.38 L230.83,224.09 L232.05,224.77 L233.27,225.44 L234.49,226.09 L235.70,226.71 L236.92,227.32 L238.14,227.91 L239.36,228.49 L240.58,229.04 L241.80,229.58 L243.02,230.10 L244.23,230.60 L245.45,231.09 L246.67,231.57 L247.89,232.02 L249.11,232.46 L250.33,232.89 L251.54,233.30 L252.76,233.70 L253.98,234.09 L255.20,234.46 L256.42,234.82 L257.64,235.16 L258.86,235.49 L260.07,235.82 L261.29,236.12 L262.51,236.42 L263.73,236.71 L264.95,236.98 L266.17,237.25 L267.39,237.50 L268.60,237.75 L269.82,237.98 L271.04,238.21 L272.26,238.42 L273.48,238.63 L274.70,238.83 L275.92,239.02 L277.13,239.20 L278.35,239.37 L279.57,239.54 L280.79,239.70 L282.01,239.85 L283.23,239.99 L284.44,240.13 L285.66,240.26 L286.88,240.39 L288.10,240.50 L289.32,240.62 L290.54,240.72 L291.76,240.83 L292.97,240.92 L294.19,241.01 L295.41,241.10 L296.63,241.18 L297.85,241.26 L299.07,241.33 L300.28,241.40 L301.50,241.46 L302.72,241.52 L303.94,241.58 L305.16,241.63 L306.38,241.68 L307.60,241.73 L308.81,241.77 L310.03,241.81 L311.25,241.85 L312.47,241.88 L313.69,241.91 L314.91,241.94 L316.13,241.97 L317.34,241.99 L318.56,242.01 L319.78,242.03 L321.00,242.05 L322.22,242.06 L323.44,242.08 L324.65,242.09 L325.87,242.10 L327.09,242.11 L328.31,242.12 L329.53,242.12 L330.75,242.13 L331.97,242.13 L333.18,242.13 L334.40,242.13 L335.62,242.13 L336.84,242.13 L338.06,242.13 L339.28,242.12 L340.50,242.12 L341.71,242.12 L342.93,242.11 L344.15,242.10 L345.37,242.10 L346.59,242.09 L347.81,242.08 L349.02,242.08 L350.24,242.07 L351.46,242.06 L352.68,242.05 L353.90,242.04 L355.12,242.03 L356.34,242.02 L357.55,242.01 L358.77,242.00 L359.99,241.99 L361.21,241.98 L362.43,241.97 L363.65,241.95 L364.87,241.94 L366.08,241.93 L367.30,241.92 L368.52,241.91 L369.74,241.90 L370.96,241.89 L372.18,241.88 L373.39,241.86 L374.61,241.85 L375.83,241.84 L377.05,241.83 L378.27,241.82 L379.49,241.81 L380.71,241.80 L381.92,241.79 L383.14,241.78 L384.36,241.77 L385.58,241.76 L386.80,241.75 L388.02,241.74 L389.24,241.73 L390.45,241.72 L391.67,241.71 L392.89,241.70 L394.11,241.69 L395.33,241.68 L396.55,241.68 L397.76,241.67 L398.98,241.66 L400.20,241.65 L401.42,241.65 L402.64,241.64 L403.86,241.63 L405.08,241.62 L406.29,241.62 L407.51,241.61 L408.73,241.60 L409.95,241.60 L411.17,241.59 L412.39,241.59 L413.61,241.58 L414.82,241.57 L416.04,241.57 L417.26,241.56 L418.48,241.56 L419.70,241.55 L420.92,241.55 L422.13,241.55" stroke="#3030ff" stroke-width="1.05" stroke-dasharray="10.9 12.45" stroke-linecap="square"/>
</g>
<g font-family="Liberation Mono, monospace" font-size="14" fill="#303030">
<ellipse cx="44.30" cy="252.05" rx="2.5" ry="4.2" fill="none" stroke="#303030" stroke-width="0.95"/>
<ellipse cx="96.22" cy="252.05" rx="2.5" ry="4.2" fill="none" stroke="#303030" stroke-width="0.95"/><text x="105.22" y="256.70" text-anchor="middle">.</text><text x="114.22" y="256.70" text-anchor="middle">5</text>
<text x="166.15" y="256.70" text-anchor="middle">1</text>
<text x="218.07" y="256.70" text-anchor="middle">1</text><text x="227.07" y="256.70" text-anchor="middle">.</text><text x="236.07" y="256.70" text-anchor="middle">5</text>
<text x="288.00" y="256.70" text-anchor="middle">2</text>
<text x="339.92" y="256.70" text-anchor="middle">2</text><text x="348.92" y="256.70" text-anchor="middle">.</text><text x="357.92" y="256.70" text-anchor="middle">5</text>
<text x="409.85" y="256.70" text-anchor="middle">3</text>
<ellipse cx="24.60" cy="242.05" rx="2.5" ry="4.2" fill="none" stroke="#303030" stroke-width="0.95"/>
<ellipse cx="6.60" cy="192.05" rx="2.5" ry="4.2" fill="none" stroke="#303030" stroke-width="0.95"/><text x="15.60" y="196.70" text-anchor="middle">.</text><text x="24.60" y="196.70" text-anchor="middle">5</text>
<text x="24.60" y="146.70" text-anchor="middle">1</text>
<text x="6.60" y="96.70" text-anchor="middle">1</text><text x="15.60" y="96.70" text-anchor="middle">.</text><text x="24.60" y="96.70" text-anchor="middle">5</text>
<text x="24.60" y="46.70" text-anchor="middle">2</text>
</g>
<g transform="translate(115.9,26.4) scale(1.0)" fill="none" stroke="#3c3c80" stroke-linecap="round" stroke-linejoin="round"><path d="M0.5,-1.5 L0.9,-0.9" stroke-width="1.5"/><path d="M0.5,-1.4 C0.8,-0.2 1.9,0.2 3.0,-0.6 C4.6,-1.9 7.2,-6.6 9.8,-10.8" stroke-width="1.05"/><path d="M9.9,-10.7 C10.2,-7.6 10.5,-4.0 11.0,-1.7 C11.2,-0.7 11.6,-0.4 12.2,-0.6" stroke-width="1.75"/><path d="M5.6,-3.4 L10.6,-3.4" stroke-width="0.95"/></g>
<g font-family="Liberation Serif, serif" fill="#3c3c80">
<text x="128.9" y="28.7" font-size="10.8" font-style="italic">ν</text>
<path transform="translate(128.80,17.799999999999997) scale(0.74,0.74)" d="M3.6,-10.8 C1.2,-8.6 0,-6.4 0,-3.9 C0,-1.4 1.2,0.8 3.6,3.0 L3.9,2.7 C2.0,0.6 1.15,-1.5 1.15,-3.9 C1.15,-6.3 2.0,-8.4 3.9,-10.5 Z" fill="#3c3c80" stroke="#3c3c80" stroke-width="0.25"/>
<text x="132.4" y="17.7" font-size="10.5">1</text>
<path transform="translate(141.39,17.799999999999997) scale(-0.74,0.74)" d="M3.6,-10.8 C1.2,-8.6 0,-6.4 0,-3.9 C0,-1.4 1.2,0.8 3.6,3.0 L3.9,2.7 C2.0,0.6 1.15,-1.5 1.15,-3.9 C1.15,-6.3 2.0,-8.4 3.9,-10.5 Z" fill="#3c3c80" stroke="#3c3c80" stroke-width="0.25"/>
<path transform="translate(145.00,26.4) scale(1.0,1.0)" d="M3.6,-10.8 C1.2,-8.6 0,-6.4 0,-3.9 C0,-1.4 1.2,0.8 3.6,3.0 L3.9,2.7 C2.0,0.6 1.15,-1.5 1.15,-3.9 C1.15,-6.3 2.0,-8.4 3.9,-10.5 Z" fill="#3c3c80" stroke="#3c3c80" stroke-width="0.25"/>
<rect x="150.5" y="21.1" width="10.4" height="0.9"/>
<text x="162.6" y="26.1" font-size="15">1</text>
<text x="170.1" y="26.1" font-size="15">0</text>
<path transform="translate(182.20,26.4) scale(-1.0,1.0)" d="M3.6,-10.8 C1.2,-8.6 0,-6.4 0,-3.9 C0,-1.4 1.2,0.8 3.6,3.0 L3.9,2.7 C2.0,0.6 1.15,-1.5 1.15,-3.9 C1.15,-6.3 2.0,-8.4 3.9,-10.5 Z" fill="#3c3c80" stroke="#3c3c80" stroke-width="0.25"/>
</g>
<g transform="translate(42.3,234.3) scale(1.0)" fill="none" stroke="#ff2020" stroke-linecap="round" stroke-linejoin="round"><path d="M0.5,-1.5 L0.9,-0.9" stroke-width="1.5"/><path d="M0.5,-1.4 C0.8,-0.2 1.9,0.2 3.0,-0.6 C4.6,-1.9 7.2,-6.6 9.8,-10.8" stroke-width="1.05"/><path d="M9.9,-10.7 C10.2,-7.6 10.5,-4.0 11.0,-1.7 C11.2,-0.7 11.6,-0.4 12.2,-0.6" stroke-width="1.75"/><path d="M5.6,-3.4 L10.6,-3.4" stroke-width="0.95"/></g>
<g font-family="Liberation Serif, serif" fill="#ff2020">
<text x="55.3" y="236.6" font-size="10.8" font-style="italic">ν</text>
<path transform="translate(55.20,225.70000000000002) scale(0.74,0.74)" d="M3.6,-10.8 C1.2,-8.6 0,-6.4 0,-3.9 C0,-1.4 1.2,0.8 3.6,3.0 L3.9,2.7 C2.0,0.6 1.15,-1.5 1.15,-3.9 C1.15,-6.3 2.0,-8.4 3.9,-10.5 Z" fill="#ff2020" stroke="#ff2020" stroke-width="0.25"/>
<text x="58.8" y="225.6" font-size="10.5">1</text>
<path transform="translate(67.79,225.70000000000002) scale(-0.74,0.74)" d="M3.6,-10.8 C1.2,-8.6 0,-6.4 0,-3.9 C0,-1.4 1.2,0.8 3.6,3.0 L3.9,2.7 C2.0,0.6 1.15,-1.5 1.15,-3.9 C1.15,-6.3 2.0,-8.4 3.9,-10.5 Z" fill="#ff2020" stroke="#ff2020" stroke-width="0.25"/>
<path transform="translate(71.40,234.3) scale(1.0,1.0)" d="M3.6,-10.8 C1.2,-8.6 0,-6.4 0,-3.9 C0,-1.4 1.2,0.8 3.6,3.0 L3.9,2.7 C2.0,0.6 1.15,-1.5 1.15,-3.9 C1.15,-6.3 2.0,-8.4 3.9,-10.5 Z" fill="#ff2020" stroke="#ff2020" stroke-width="0.25"/>
<rect x="76.9" y="229.0" width="10.4" height="0.9"/>
<rect x="81.65" y="224.2" width="0.9" height="10.4"/>
<text x="88.6" y="234.0" font-size="15">1</text>
<text x="95.9" y="234.0" font-size="15">0</text>
<path transform="translate(107.60,234.3) scale(-1.0,1.0)" d="M3.6,-10.8 C1.2,-8.6 0,-6.4 0,-3.9 C0,-1.4 1.2,0.8 3.6,3.0 L3.9,2.7 C2.0,0.6 1.15,-1.5 1.15,-3.9 C1.15,-6.3 2.0,-8.4 3.9,-10.5 Z" fill="#ff2020" stroke="#ff2020" stroke-width="0.25"/>
</g>
<g transform="translate(338.6,134.4) scale(1.0)" fill="none" stroke="#2a2a2a" stroke-linecap="round" stroke-linejoin="round"><path d="M0.5,-1.5 L0.9,-0.9" stroke-width="1.5"/><path d="M0.5,-1.4 C0.8,-0.2 1.9,0.2 3.0,-0.6 C4.6,-1.9 7.2,-6.6 9.8,-10.8" stroke-width="1.05"/><path d="M9.9,-10.7 C10.2,-7.6 10.5,-4.0 11.0,-1.7 C11.2,-0.7 11.6,-0.4 12.2,-0.6" stroke-width="1.75"/><path d="M5.6,-3.4 L10.6,-3.4" stroke-width="0.95"/></g>
<g font-family="Liberation Serif, serif" fill="#2a2a2a">
<text x="351.6" y="137.8" font-size="10.5">1</text>
<path transform="translate(351.50,125.80000000000001) scale(0.74,0.74)" d="M3.6,-10.8 C1.2,-8.6 0,-6.4 0,-3.9 C0,-1.4 1.2,0.8 3.6,3.0 L3.9,2.7 C2.0,0.6 1.15,-1.5 1.15,-3.9 C1.15,-6.3 2.0,-8.4 3.9,-10.5 Z" fill="#2a2a2a" stroke="#2a2a2a" stroke-width="0.25"/>
<text x="355.1" y="125.7" font-size="10.5">1</text>
<path transform="translate(364.09,125.80000000000001) scale(-0.74,0.74)" d="M3.6,-10.8 C1.2,-8.6 0,-6.4 0,-3.9 C0,-1.4 1.2,0.8 3.6,3.0 L3.9,2.7 C2.0,0.6 1.15,-1.5 1.15,-3.9 C1.15,-6.3 2.0,-8.4 3.9,-10.5 Z" fill="#2a2a2a" stroke="#2a2a2a" stroke-width="0.25"/>
<path transform="translate(367.20,134.4) scale(1.0,1.0)" d="M3.6,-10.8 C1.2,-8.6 0,-6.4 0,-3.9 C0,-1.4 1.2,0.8 3.6,3.0 L3.9,2.7 C2.0,0.6 1.15,-1.5 1.15,-3.9 C1.15,-6.3 2.0,-8.4 3.9,-10.5 Z" fill="#2a2a2a" stroke="#2a2a2a" stroke-width="0.25"/>
<rect x="372.9" y="129.1" width="10.4" height="0.9"/>
<text x="384.9" y="136.4" font-size="22.5">∞</text>
<path transform="translate(405.60,134.4) scale(-1.0,1.0)" d="M3.6,-10.8 C1.2,-8.6 0,-6.4 0,-3.9 C0,-1.4 1.2,0.8 3.6,3.0 L3.9,2.7 C2.0,0.6 1.15,-1.5 1.15,-3.9 C1.15,-6.3 2.0,-8.4 3.9,-10.5 Z" fill="#2a2a2a" stroke="#2a2a2a" stroke-width="0.25"/>
</g>
<text x="390.6" y="235.6" font-family="Liberation Serif, serif" font-style="italic" font-size="14.6" textLength="7.9" lengthAdjust="spacingAndGlyphs" fill="#222">ν</text>
<path transform="translate(392.70,35.3) scale(1.16,1.42)" d="M3.6,-10.8 C1.2,-8.6 0,-6.4 0,-3.9 C0,-1.4 1.2,0.8 3.6,3.0 L3.9,2.7 C2.0,0.6 1.15,-1.5 1.15,-3.9 C1.15,-6.3 2.0,-8.4 3.9,-10.5 Z" fill="#484848" stroke="#484848" stroke-width="0.25"/>
<text x="398.3" y="35.6" font-family="Liberation Serif, serif" font-size="19.5" fill="#484848">b</text>
<path transform="translate(413.92,35.3) scale(-1.16,1.42)" d="M3.6,-10.8 C1.2,-8.6 0,-6.4 0,-3.9 C0,-1.4 1.2,0.8 3.6,3.0 L3.9,2.7 C2.0,0.6 1.15,-1.5 1.15,-3.9 C1.15,-6.3 2.0,-8.4 3.9,-10.5 Z" fill="#484848" stroke="#484848" stroke-width="0.25"/>
</svg>
</body></html>
